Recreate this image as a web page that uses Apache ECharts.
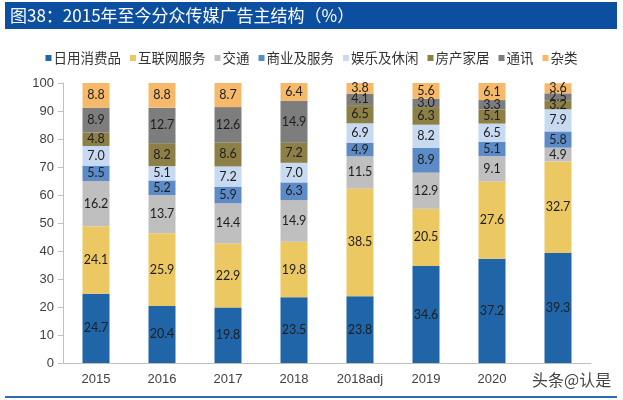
<!DOCTYPE html>
<html>
<head>
<meta charset="utf-8">
<script src="https://cdn.jsdelivr.net/npm/echarts@6/dist/echarts.min.js"></script>
<style>
html,body{margin:0;padding:0;background:#fff;}
#main{width:623px;height:400px;}
</style>
</head>
<body>
<div id="main"></div>
<script>
const categories = ['2015','2016','2017','2018','2018adj','2019','2020','2021'];
const seriesNames = ['日用消费品','互联网服务','交通','商业及服务','娱乐及休闲','房产家居','通讯','杂类'];
const dailyGoods    = [24.7, 20.4, 19.8, 23.5, 23.8, 34.6, 37.2, 39.3];
const internetSvc   = [24.1, 25.9, 22.9, 19.8, 38.5, 20.5, 27.6, 32.7];
const transport     = [16.2, 13.7, 14.4, 14.9, 11.5, 12.9, 9.1, 4.9];
const businessSvc   = [5.5, 5.2, 5.9, 6.3, 4.9, 8.9, 5.1, 5.8];
const entertainment = [7.0, 5.1, 7.2, 7.0, 6.9, 8.2, 6.5, 7.9];
const realEstate    = [4.8, 8.2, 8.6, 7.2, 6.5, 6.3, 5.1, 3.2];
const telecom       = [8.9, 12.7, 12.6, 14.9, 4.1, 3.0, 3.3, 2.5];
const misc          = [8.8, 8.8, 8.7, 6.4, 3.8, 5.6, 6.1, 3.6];
const yTicks = [0,10,20,30,40,50,60,70,80,90,100];
const colors = ['#1F65A8','#ECC862','#BFBFBF','#5C8BC8','#C7DAF1','#8C8047','#7D7D7D','#F6B96A'];
const allData = [dailyGoods, internetSvc, transport, businessSvc, entertainment, realEstate, telecom, misc];

const chart = echarts.init(document.getElementById('main'));
const cjk = '"Noto Sans CJK SC", "Noto Sans", sans-serif';

chart.setOption({
  animation: false,
  color: colors,
  graphic: [
    {type:'rect', shape:{x:5, y:2, width:612, height:27}, style:{fill:'#0C4EA0'}, z:10},
    {type:'text', x:10, y:15.5, style:{text:'图38：2015年至今分众传媒广告主结构（%）', fill:'#fff', fontSize:17, fontFamily:cjk, verticalAlign:'middle'}, z:11},
    {type:'line', shape:{x1:5, y1:397, x2:617, y2:397}, style:{stroke:'#2E6DB4', lineWidth:2}, z:10},
    {type:'text', x:532, y:380, style:{text:'头条@认是', fill:'#444', fontSize:16, fontFamily:cjk, verticalAlign:'middle'}, z:11}
  ],
  legend: {
    top: 45, left: 'center',
    itemWidth: 6, itemHeight: 6, itemGap: 9,
    icon: 'rect',
    textStyle: {fontSize: 13.5, color:'#333', fontFamily: cjk, lineHeight: 16, padding:[0,0,0,-3]},
    data: seriesNames
  },
  grid: {left: 63, right: 32, top: 83, height: 280, containLabel: false},
  xAxis: {
    type: 'category',
    data: categories,
    axisLine: {lineStyle: {color:'#BFBFBF'}},
    axisTick: {show: false},
    axisLabel: {
      fontSize: 13, color:'#404040', fontFamily:'"Liberation Sans", Arial, sans-serif', margin: 10,
      formatter: (v, i) => i === categories.length - 1 ? '' : v
    }
  },
  yAxis: {
    type: 'value', min: yTicks[0], max: yTicks[yTicks.length-1], interval: 10,
    axisLine: {show: true, lineStyle: {color:'#BFBFBF'}},
    axisTick: {show: true, length: 5, lineStyle: {color:'#BFBFBF'}},
    splitLine: {show: false},
    axisLabel: {fontSize: 13, color:'#404040', fontFamily:'"Liberation Sans", Arial, sans-serif', margin: 9}
  },
  series: seriesNames.map((name, i) => ({
    name: name,
    type: 'bar',
    stack: 'total',
    barWidth: 27,
    data: allData[i],
    itemStyle: {color: colors[i]},
    label: {
      show: true, position: 'inside',
      formatter: p => p.value.toFixed(1),
      fontSize: 12.5, color:'#1E1E1E', fontFamily:'Lato, "Open Sans", sans-serif'
    }
  }))
});
</script>
</body>
</html>
